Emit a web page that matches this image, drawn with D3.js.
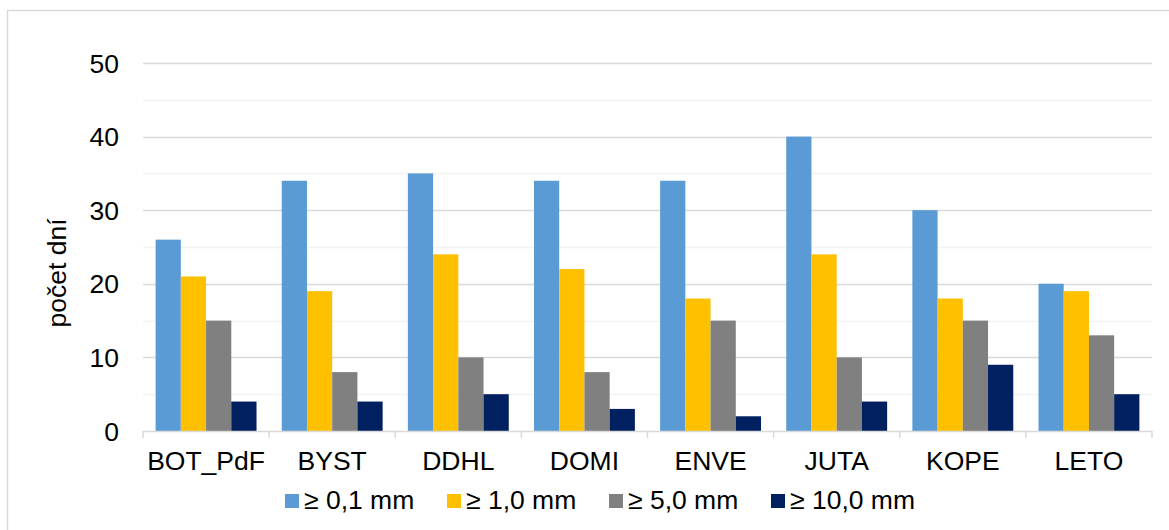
<!DOCTYPE html>
<html>
<head>
<meta charset="utf-8">
<script src="https://cdn.jsdelivr.net/npm/d3@7"></script>
<style>
  body { margin: 0; background: #fff; overflow: hidden; }
  svg { font-family: "Liberation Sans", Arial, sans-serif; }
</style>
</head>
<body>
<svg id="chart" width="1169" height="530"></svg>
<script>
// stations and precipitation-day counts
const stations = ['BOT_PdF', 'BYST', 'DDHL', 'DOMI', 'ENVE', 'JUTA', 'KOPE', 'LETO']
const seriesNames = ['≥ 0,1 mm', '≥ 1,0 mm', '≥ 5,0 mm', '≥ 10,0 mm']
const over01 = [26, 34, 35, 34, 34, 40, 30, 20]
const over10 = [21, 19, 24, 22, 18, 24, 18, 19]
const over50 = [15, 8, 10, 8, 15, 10, 15, 13]
const over100 = [4, 4, 5, 3, 2, 4, 9, 5]
const yTicks = [0, 10, 20, 30, 40, 50]
const colors = ['#5B9BD5', '#FFC000', '#808080', '#002060']

const seriesValues = [over01, over10, over50, over100]

const config = { left: 143, right: 1152, top: 63, bottom: 431, fontSize: 26.5 }

const svg = d3.select('#chart')

// chart border (right and bottom edges fall outside the picture)
svg.append('rect')
    .attr('x', 7.5).attr('y', 10.5)
    .attr('width', 1200).attr('height', 600)
    .attr('fill', 'none')
    .attr('stroke', '#D9D9D9')
    .attr('stroke-width', 1.5)

const x = d3.scaleBand()
    .domain(stations)
    .range([config.left, config.right])
    .paddingInner(0.2)
    .paddingOuter(0.1)

const xOuter = d3.scaleBand()
    .domain(stations)
    .range([config.left, config.right])

const x1 = d3.scaleBand()
    .domain(d3.range(seriesNames.length))
    .range([0, x.bandwidth()])

const y = d3.scaleLinear()
    .domain([0, 50])
    .range([config.bottom, config.top])

// minor gridlines
svg.append('g')
    .selectAll('line')
    .data(d3.range(5, 50, 10))
    .enter().append('line')
    .attr('x1', config.left).attr('x2', config.right)
    .attr('y1', d => Math.round(y(d)) + 0.5)
    .attr('y2', d => Math.round(y(d)) + 0.5)
    .attr('stroke', '#F2F2F2')
    .attr('stroke-width', 1.5)

// major gridlines
svg.append('g')
    .selectAll('line')
    .data(yTicks.slice(1))
    .enter().append('line')
    .attr('x1', config.left).attr('x2', config.right)
    .attr('y1', d => Math.round(y(d)) + 0.5)
    .attr('y2', d => Math.round(y(d)) + 0.5)
    .attr('stroke', '#D9D9D9')
    .attr('stroke-width', 1.5)

// bars
const groups = svg.append('g')
    .selectAll('g')
    .data(stations)
    .enter().append('g')
    .attr('transform', d => 'translate(' + x(d) + ',0)')

groups.selectAll('rect')
    .data((d, i) => seriesValues.map((s, k) => ({ k: k, v: s[i] })))
    .enter().append('rect')
    .attr('x', d => x1(d.k))
    .attr('width', x1.bandwidth())
    .attr('y', d => y(d.v))
    .attr('height', d => y(0) - y(d.v))
    .attr('fill', d => colors[d.k])

// y axis labels
svg.append('g')
    .selectAll('text')
    .data(yTicks)
    .enter().append('text')
    .attr('x', 119)
    .attr('y', d => y(d) + 9.5)
    .attr('text-anchor', 'end')
    .attr('font-size', config.fontSize)
    .attr('fill', '#000')
    .text(d => d)

// x axis line + ticks
const xAxis = svg.append('g')
xAxis.append('line')
    .attr('x1', config.left).attr('x2', config.right)
    .attr('y1', config.bottom + 0.5).attr('y2', config.bottom + 0.5)
    .attr('stroke', '#D9D9D9').attr('stroke-width', 1.5)
xAxis.selectAll('.tick')
    .data(stations.concat(['end']))
    .enter().append('line')
    .attr('x1', d => d === 'end' ? config.right : xOuter(d))
    .attr('x2', d => d === 'end' ? config.right : xOuter(d))
    .attr('y1', config.bottom).attr('y2', config.bottom + 7)
    .attr('stroke', '#D9D9D9').attr('stroke-width', 1.5)

xAxis.selectAll('text')
    .data(stations)
    .enter().append('text')
    .attr('x', d => xOuter(d) + xOuter.bandwidth() / 2)
    .attr('y', 470)
    .attr('text-anchor', 'middle')
    .attr('font-size', config.fontSize)
    .attr('fill', '#000')
    .text(d => d)

// y axis title
svg.append('text')
    .attr('transform', 'translate(66,273) rotate(-90)')
    .attr('text-anchor', 'middle')
    .attr('font-size', config.fontSize)
    .attr('fill', '#000')
    .text('počet dní')

// legend
const legend = svg.append('g')
    .selectAll('g')
    .data(seriesNames)
    .enter().append('g')
    .attr('transform', (d, i) => 'translate(' + (285 + i * 162) + ',494)')

legend.append('rect')
    .attr('width', 14).attr('height', 14)
    .attr('fill', (d, i) => colors[i])

legend.append('text')
    .attr('x', 19)
    .attr('y', 15)
    .attr('font-size', config.fontSize)
    .attr('fill', '#000')
    .text(d => d)
</script>
</body>
</html>
